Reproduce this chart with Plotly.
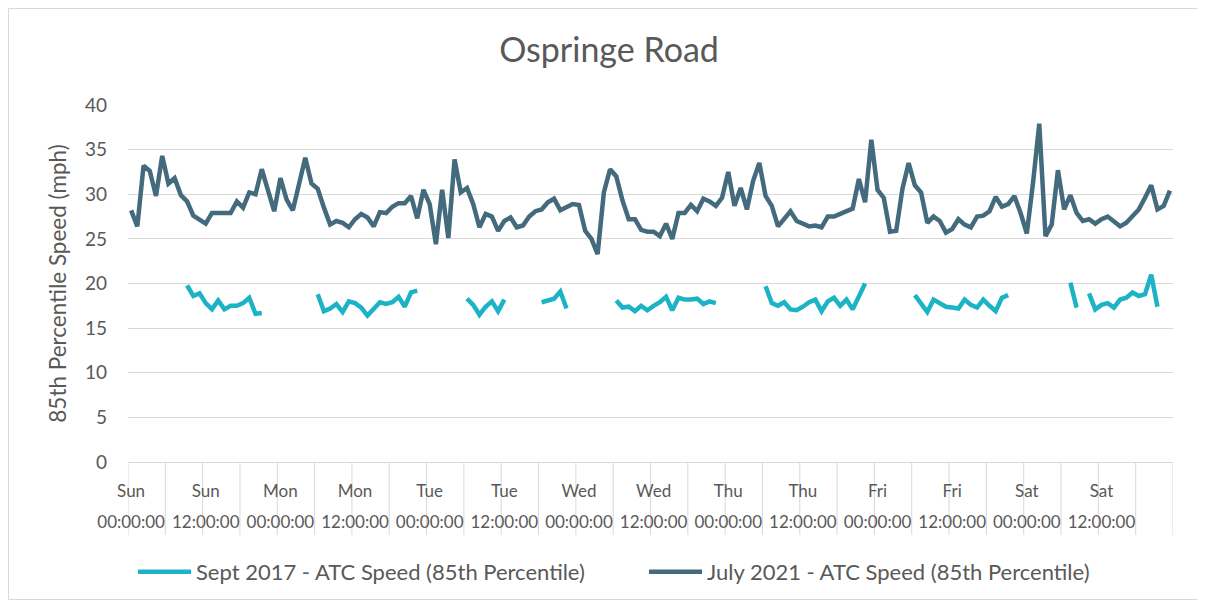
import plotly.graph_objects as go

N = None
# Hourly categories, Sunday 00:00 to Saturday 23:00
hours = list(range(168))
tick_hours = list(range(0, 168, 12))
tick_days = ["Sun", "Sun", "Mon", "Mon", "Tue", "Tue", "Wed", "Wed",
             "Thu", "Thu", "Fri", "Fri", "Sat", "Sat"]
tick_times = ["00:00:00", "12:00:00"] * 7

july_2021 = [
    28.2, 26.4, 33.2, 32.6, 29.8, 34.3, 31.2, 31.8, 29.9, 29.2,
    27.6, 27.2, 26.7, 27.9, 27.9, 28.0, 27.9, 29.2, 28.5, 30.2,
    30.0, 32.8, 30.4, 28.1, 31.8, 29.4, 28.2, 31.3, 34.1, 31.2,
    30.6, 28.5, 26.6, 27.0, 26.8, 26.3, 27.2, 27.8, 27.4, 26.4,
    28.0, 27.9, 28.6, 29.0, 29.0, 29.8, 27.3, 30.5, 28.9, 24.4,
    30.5, 25.1, 33.9, 30.2, 30.7, 28.9, 26.3, 27.8, 27.5, 25.9,
    27.0, 27.4, 26.3, 26.5, 27.5, 28.1, 28.3, 29.1, 29.5, 28.2,
    28.6, 28.9, 28.8, 25.9, 25.0, 23.3, 30.2, 32.8, 32.0, 29.3,
    27.2, 27.2, 26.0, 25.8, 25.8, 25.3, 26.7, 25.0, 27.9, 27.9,
    28.8, 28.1, 29.5, 29.2, 28.7, 29.6, 32.5, 28.7, 30.7, 28.3,
    31.5, 33.5, 29.8, 28.7, 26.4, 27.2, 28.1, 27.0, 26.7, 26.4,
    26.5, 26.3, 27.5, 27.5, 27.8, 28.1, 28.4, 31.7, 29.1, 36.1,
    30.5, 29.6, 25.8, 25.9, 30.6, 33.5, 31.0, 30.2, 26.8, 27.5,
    27.0, 25.7, 26.1, 27.2, 26.6, 26.3, 27.5, 27.6, 28.1, 29.7,
    28.6, 28.9, 29.8, 27.9, 25.6, 31.3, 37.9, 25.3, 26.6, 32.7,
    28.3, 29.9, 27.9, 27.0, 27.2, 26.7, 27.2, 27.5, 27.0, 26.4,
    26.8, 27.6, 28.3, 29.6, 31.0, 28.3, 28.7, 30.4,
]

sept_2017 = (
    [N] * 9
    + [19.8, 18.6, 18.9, 17.8, 17.1, 18.1, 17.1, 17.5, 17.5, 17.8, 18.4, 16.6, 16.7]
    + [N] * 8
    + [18.8, 16.9, 17.2, 17.7, 16.8, 18.0, 17.8, 17.3, 16.4, 17.1, 17.9, 17.7, 17.9,
       18.5, 17.4, 19.0, 19.2]
    + [N] * 7
    + [18.3, 17.6, 16.5, 17.4, 18.0, 16.9, 18.2]
    + [N] * 5
    + [17.9, 18.1, 18.3, 19.1, 17.2]
    + [N] * 7
    + [18.1, 17.3, 17.4, 16.9, 17.5, 17.0, 17.5, 17.9, 18.5, 17.0, 18.4, 18.2, 18.2,
       18.3, 17.7, 18.0, 17.8]
    + [N] * 7
    + [19.7, 17.8, 17.5, 17.9, 17.1, 17.0, 17.4, 17.9, 18.2, 16.9, 18.0, 18.4, 17.5,
       18.2, 17.1, 18.6, 20.0]
    + [N] * 7
    + [18.7, 17.8, 16.8, 18.2, 17.8, 17.4, 17.3, 17.2, 18.2, 17.6, 17.3, 18.2, 17.5,
       16.9, 18.4, 18.7]
    + [N] * 9
    + [20.1, 17.3]
    + [N]
    + [18.9, 17.1, 17.6, 17.8, 17.3, 18.2, 18.4, 19.0, 18.6, 18.8, 21.0, 17.4]
    + [N] * 2
)

TEAL = "#1BB3C5"
DARK = "#436A7D"
TXT = "#595959"
GRID = "#D9D9D9"
FONT = "Lato"

# the page adds an 8px body margin, so the figure is 8px smaller each way
W, H = 1197, 600
ML, MT = 120, 97
PW, PH = 1045, 357
MR, MB = W - ML - PW, H - MT - PH

fig = go.Figure()
fig.add_trace(go.Scatter(x=hours, y=sept_2017, mode="lines",
                         name="Sept 2017 - ATC Speed (85th Percentile)",
                         line=dict(color=TEAL, width=4.5), connectgaps=False))
fig.add_trace(go.Scatter(x=hours, y=july_2021, mode="lines",
                         name="July 2021 - ATC Speed (85th Percentile)",
                         line=dict(color=DARK, width=4.5)))
# invisible trace so the second (time-label) axis is drawn
fig.add_trace(go.Scatter(x=[hours[0]], y=[None], xaxis="x2", showlegend=False,
                         hoverinfo="skip"))

shapes = []
for k in range(0, len(hours) + 1, 6):
    shapes.append(dict(type="line", xref="x", yref="paper", x0=k - 0.5, x1=k - 0.5,
                       y0=0, y1=-73 / PH, line=dict(color=GRID, width=1), layer="below"))
shapes.append(dict(type="rect", xref="paper", yref="paper",
                   x0=(0.5 - ML) / PW, x1=(W - 7.5 - ML) / PW,
                   y0=((MT + PH) - (H - 8.5)) / PH, y1=((MT + PH) - 0.5) / PH,
                   line=dict(color=GRID, width=1), fillcolor="rgba(0,0,0,0)", layer="below"))

xr = [-0.5, len(hours) - 0.5]
fig.update_layout(
    width=W, height=H,
    margin=dict(l=ML, r=MR, t=MT, b=MB, autoexpand=False),
    paper_bgcolor="white", plot_bgcolor="white",
    font=dict(family=FONT, color=TXT),
    title=dict(text="Ospringe Road", x=601 / W, xref="container", xanchor="center",
               y=1 - 42 / H, yref="container", yanchor="middle",
               font=dict(size=34, color=TXT, family=FONT)),
    xaxis=dict(range=xr, tickmode="array", tickvals=tick_hours, ticktext=tick_days,
               showgrid=False, zeroline=False, showline=True, linecolor=GRID, linewidth=1,
               ticks="", tickfont=dict(size=17, color=TXT), ticklabelstandoff=14),
    xaxis2=dict(range=xr, overlaying="x", side="bottom", anchor="y", tickmode="array",
                tickvals=tick_hours, ticktext=tick_times, showgrid=False, zeroline=False,
                showline=False, ticks="", tickfont=dict(size=17, color=TXT),
                ticklabelstandoff=48),
    yaxis=dict(range=[0, 40], dtick=5, showgrid=True, gridcolor=GRID, gridwidth=1,
               zeroline=False, showline=False, ticks="", ticklabelstandoff=20,
               tickfont=dict(size=19, color=TXT),
               title=dict(text="85th Percentile Speed (mph)", standoff=12,
                          font=dict(size=22.5, color=TXT))),
    legend=dict(orientation="h", x=125 / W, xref="container", xanchor="left",
                y=1 - 564 / H, yref="container", yanchor="middle",
                font=dict(size=22, color=TXT), itemwidth=53, entrywidth=443,
                entrywidthmode="pixels", traceorder="normal"),
    shapes=shapes,
    showlegend=True,
)

fig.write_html("out.html")
